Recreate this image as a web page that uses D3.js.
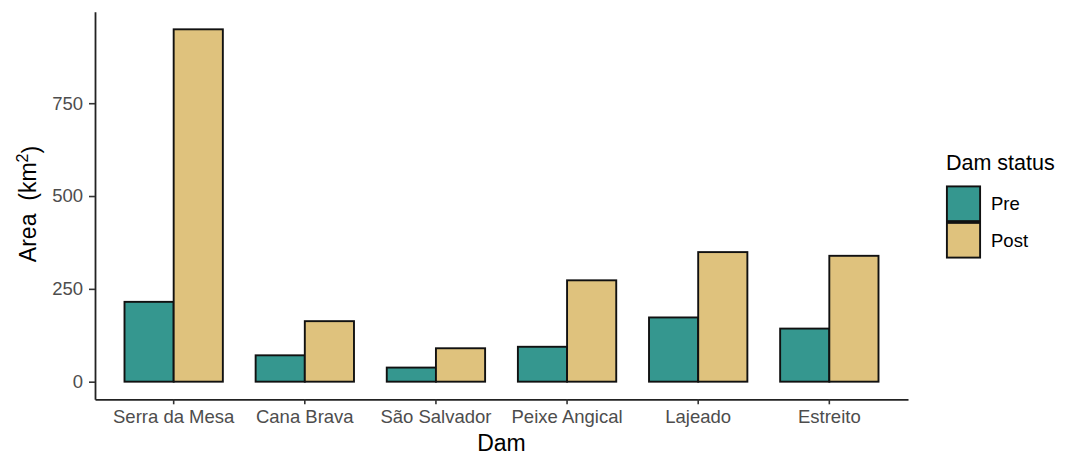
<!DOCTYPE html>
<html>
<head>
<meta charset="utf-8">
<script src="https://cdn.jsdelivr.net/npm/d3@7"></script>
<style>
  html, body { margin: 0; padding: 0; background: #fff; }
  svg { display: block; font-family: "Liberation Sans", Arial, sans-serif; }
</style>
</head>
<body>
<svg id="chart" width="1070" height="455"></svg>
<script>
// Reservoir area before and after damming, per dam
const dams = ["Serra da Mesa", "Cana Brava", "São Salvador", "Peixe Angical", "Lajeado", "Estreito"];
const preArea = [215, 71, 38, 94, 173, 143];
const postArea = [949, 163, 90, 273, 349, 339];
const statuses = ["Pre", "Post"];
const statusColors = ["#35978f", "#dfc27d"];
const yTicks = [0, 250, 500, 750];

const rows = dams.map((d, i) => ({ dam: d, values: [preArea[i], postArea[i]] }));

const svg = d3.select("#chart");
const panel = { left: 95, right: 908, top: 11.7, bottom: 399.3 };

// Discrete x: centres spaced one band apart, 0.6 band of padding at each end
const x = d3.scaleBand()
  .domain(dams)
  .range([panel.left, panel.right])
  .paddingInner(0.25)
  .paddingOuter(0.225);

const xSub = d3.scaleBand()
  .domain(statuses)
  .range([0, x.bandwidth()]);

// Continuous y with 5% expansion on both sides
const yMax = d3.max(postArea.concat(preArea));
const pad = yMax * 0.05;
const y = d3.scaleLinear()
  .domain([-pad, yMax + pad])
  .range([panel.bottom, panel.top]);

const color = d3.scaleOrdinal().domain(statuses).range(statusColors);

// Bars
const groups = svg.append("g").selectAll("g")
  .data(rows)
  .join("g")
  .attr("transform", d => `translate(${x(d.dam)},0)`);

groups.selectAll("rect")
  .data(d => d.values.map((v, j) => ({ status: statuses[j], value: v })))
  .join("rect")
  .attr("x", d => xSub(d.status))
  .attr("width", xSub.bandwidth())
  .attr("y", d => y(d.value))
  .attr("height", d => y(0) - y(d.value))
  .attr("fill", d => color(d.status))
  .attr("stroke", "#111")
  .attr("stroke-width", 1.9);

// Axes
const xAxis = svg.append("g")
  .attr("transform", `translate(0,${panel.bottom})`)
  .call(d3.axisBottom(x).tickSizeInner(5).tickSizeOuter(0).tickPadding(6));

const yAxis = svg.append("g")
  .attr("transform", `translate(${panel.left},0)`)
  .call(d3.axisLeft(y).tickValues(yTicks).tickSizeInner(6).tickSizeOuter(0).tickPadding(6));

[xAxis, yAxis].forEach(ax => {
  ax.select(".domain").attr("stroke", "#222").attr("stroke-width", 1.8);
  ax.selectAll(".tick line").attr("stroke", "#333").attr("stroke-width", 1.6);
  ax.selectAll(".tick text")
    .attr("fill", "#4d4d4d")
    .style("font-size", "18.5px")
    .style("font-family", "'Liberation Sans', Arial, sans-serif");
});
xAxis.selectAll(".tick text").attr("dy", "0.71em");

// Axis titles
svg.append("text")
  .attr("x", (panel.left + panel.right) / 2)
  .attr("y", 450.5)
  .attr("text-anchor", "middle")
  .style("font-size", "23px")
  .attr("fill", "#000")
  .text("Dam");

const yTitle = svg.append("text")
  .attr("transform", `translate(35.5,204) rotate(-90)`)
  .attr("text-anchor", "middle")
  .style("font-size", "23px")
  .style("white-space", "pre")
  .attr("fill", "#000");
yTitle.append("tspan").text("Area  (km");
yTitle.append("tspan").attr("dy", "-0.45em").style("font-size", "16px").text("2");
yTitle.append("tspan").attr("dy", "0.45em").text(")");

// Legend
const legend = svg.append("g").attr("transform", "translate(946,0)");
legend.append("text")
  .attr("x", 0)
  .attr("y", 170)
  .style("font-size", "21.5px")
  .attr("fill", "#000")
  .text("Dam status");

const keyH = 36.5, keyW = 35;
const items = legend.selectAll("g.key")
  .data(statuses)
  .join("g")
  .attr("class", "key")
  .attr("transform", (d, i) => `translate(0,${185.5 + i * keyH})`);

items.append("rect")
  .attr("x", 0.9)
  .attr("y", 0.9)
  .attr("width", keyW - 1.8)
  .attr("height", keyH - 1.8)
  .attr("fill", d => color(d))
  .attr("stroke", "#111")
  .attr("stroke-width", 1.9);

items.append("text")
  .attr("x", keyW + 10)
  .attr("y", keyH / 2)
  .attr("dy", "0.36em")
  .style("font-size", "18.5px")
  .attr("fill", "#000")
  .text(d => d);
</script>
</body>
</html>
